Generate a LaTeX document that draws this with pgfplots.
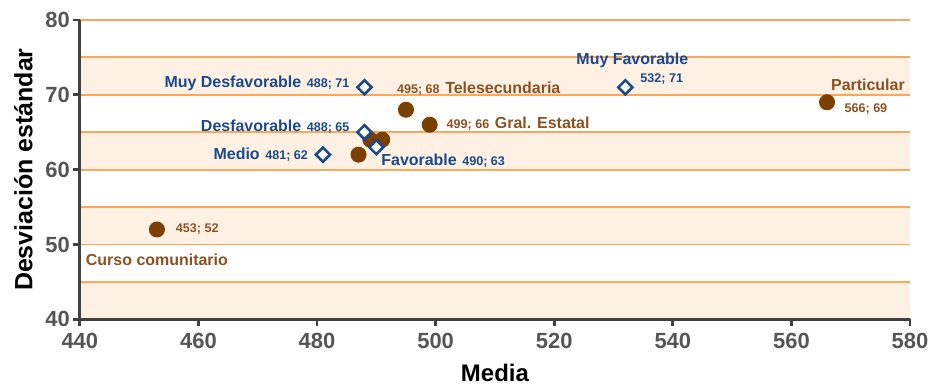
\documentclass[border=0pt]{standalone}
\usepackage{pgfplots}
\pgfplotsset{compat=1.18}
\usepackage{fontspec}
\setmainfont{Liberation Sans}
\definecolor{gridor}{HTML}{F9A75A}
\definecolor{peach}{HTML}{FEF1E4}
\definecolor{axgray}{HTML}{404040}
\definecolor{tickgray}{HTML}{555555}
\definecolor{brownpt}{HTML}{7B3F00}
\definecolor{browntx}{HTML}{8A5222}
\definecolor{bluept}{HTML}{1A4A8C}
\newcommand{\nm}[1]{{\fontsize{8}{9}\selectfont\bfseries #1}}
\newcommand{\vl}[1]{{\fontsize{6.3}{7}\selectfont\bfseries #1}}
\begin{document}
\begin{tikzpicture}
\begin{axis}[
  set layers,
  scale only axis, width=416pt, height=150pt,
  xmin=440, xmax=580, ymin=40, ymax=80,
  axis x line*=bottom, axis y line*=left,
  axis line style={axgray, line width=1.6pt},
  xtick={440,460,...,580}, ytick={40,50,...,80},
  minor ytick={45,55,65,75},
  ymajorgrids, yminorgrids,
  grid style={gridor, line width=0.9pt},
  minor grid style={gridor, line width=0.9pt},
  minor tick length=0pt,
  tick align=outside, major tick length=3.5pt,
  tick style={axgray, line width=1.4pt},
  xticklabel style={font=\fontsize{11}{12}\selectfont\bfseries, text=tickgray},
  yticklabel style={font=\fontsize{11}{12}\selectfont\bfseries, text=tickgray, xshift=2pt},
  /pgf/number format/assume math mode=true,
  xlabel={\fontsize{12}{13}\selectfont\bfseries Media},
  ylabel={\fontsize{12.5}{13}\selectfont\bfseries Desviación estándar},
  xlabel style={yshift=-1pt},
  ylabel style={yshift=-0.5pt},
  clip=false,
]
\addplot[fill=peach, draw=none, on layer=axis background] coordinates {(440,70) (580,70) (580,75) (440,75)};
\addplot[fill=peach, draw=none, on layer=axis background] coordinates {(440,60) (580,60) (580,65) (440,65)};
\addplot[fill=peach, draw=none, on layer=axis background] coordinates {(440,50) (580,50) (580,55) (440,55)};
\addplot[fill=peach, draw=none, on layer=axis background] coordinates {(440,40) (580,40) (580,45) (440,45)};
\addplot[only marks, mark=*, mark size=3.8pt, mark options={fill=brownpt, draw=brownpt}]
  coordinates {(453,52) (487,62) (489,64) (491,64) (495,68) (499,66) (566,69)};
\addplot[only marks, mark=square*, mark size=2.5pt, mark options={fill=white, draw=bluept, line width=1.3pt, rotate=45}]
  coordinates {(481,62) (488,65) (488,71) (490,63) (532,71)};
% blue labels
\node[anchor=east, text=bluept, xshift=-4pt, yshift=2pt] at (axis cs:488,71) {\nm{Muy Desfavorable} \vl{488; 71}};
\node[anchor=east, text=bluept, xshift=-4pt, yshift=3pt] at (axis cs:488,65) {\nm{Desfavorable} \vl{488; 65}};
\node[anchor=east, text=bluept, xshift=-4pt, yshift=0pt] at (axis cs:481,62) {\nm{Medio} \vl{481; 62}};
\node[anchor=west, text=bluept, xshift=-1pt, yshift=-7pt] at (axis cs:490,63) {\nm{Favorable} \vl{490; 63}};
\node[text=bluept, xshift=3.5pt, yshift=13.5pt] at (axis cs:532,71) {\nm{Muy Favorable}};
\node[anchor=west, text=bluept, xshift=4pt, yshift=4pt] at (axis cs:532,71) {\vl{532; 71}};
% brown labels
\node[anchor=west, text=browntx, xshift=-8pt, yshift=10.5pt] at (axis cs:495,68) {\vl{495; 68} \nm{Telesecundaria}};
\node[anchor=west, text=browntx, xshift=5pt, yshift=0.5pt] at (axis cs:499,66) {\vl{499; 66} \nm{Gral. Estatal}};
\node[text=browntx, xshift=20.5pt, yshift=9pt] at (axis cs:566,69) {\nm{Particular}};
\node[text=browntx, xshift=19.5pt, yshift=-3.5pt] at (axis cs:566,69) {\vl{566; 69}};
\node[anchor=west, text=browntx, xshift=6pt] at (axis cs:453,52) {\vl{453; 52}};
\node[text=browntx, xshift=0pt, yshift=-15pt] at (axis cs:453,52) {\nm{Curso comunitario}};
\end{axis}
\path (current axis.south west) ++(-40pt,-32.5pt) coordinate (bbA);
\path (current axis.north east) ++(11.5pt,10pt) coordinate (bbB);
\path (bbA) rectangle (bbB);
\end{tikzpicture}
\end{document}
